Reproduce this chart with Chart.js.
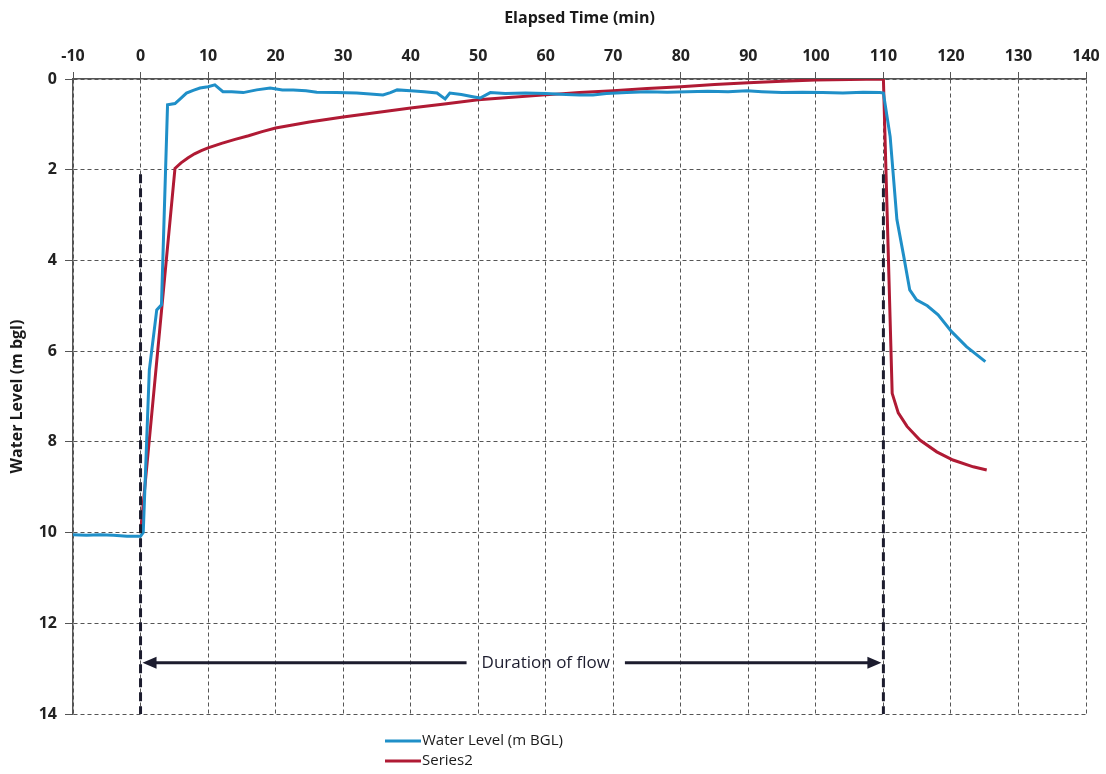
<!DOCTYPE html>
<html>
<head>
<meta charset="utf-8">
<script src="https://cdn.jsdelivr.net/npm/chart.js@4"></script>
<style>
  html, body { margin: 0; padding: 0; background: #fff; }
  #wrap { width: 1106px; height: 774px; position: relative; }
</style>
</head>
<body>
<div id="wrap"><canvas id="chart"></canvas></div>
<script>
// elapsed time (min) and water level (m bgl)
const measuredTime = [-10, -8, -6, -4, -2, 0, 0.4, 1.3, 2.4, 3.1, 4.0, 5.1, 6.0, 6.8, 7.8, 8.8, 10, 11.0, 12.2, 13.5,
  15.2, 17.2, 19.2, 21, 22.6, 24.5, 26.1, 29, 32, 34, 35.9, 37, 38, 40, 42, 43.9, 45.1, 45.8, 47.5, 49.2,
  50.3, 51.8, 54, 57, 60, 63, 65, 67, 69, 72, 75, 78, 81, 84, 87, 89.8, 92, 95, 98, 101,
  104, 107, 109.5, 110, 111.0, 112.0, 113.0, 113.9, 114.9, 116.5, 118.1, 120.1, 122.3, 125.1];
const measuredLevel = [10.05, 10.06, 10.05, 10.06, 10.08, 10.08, 10.0, 6.42, 5.09, 4.98, 0.57, 0.54, 0.42, 0.31, 0.25, 0.2, 0.17, 0.13, 0.28, 0.28,
  0.3, 0.24, 0.2, 0.24, 0.24, 0.26, 0.29, 0.3, 0.31, 0.33, 0.35, 0.3, 0.24, 0.26, 0.28, 0.31, 0.44, 0.31, 0.34, 0.39,
  0.42, 0.3, 0.32, 0.31, 0.32, 0.34, 0.35, 0.35, 0.32, 0.3, 0.28, 0.29, 0.28, 0.27, 0.28, 0.26, 0.28, 0.3, 0.29, 0.3,
  0.31, 0.29, 0.3, 0.31, 1.27, 3.1, 3.9, 4.65, 4.87, 5.0, 5.2, 5.57, 5.9, 6.23];

const series2Time = [0, 5.1, 6, 7, 8, 9, 10, 12, 14, 16, 18, 20, 25, 30, 35, 40, 45, 50, 55, 60,
  65, 70, 75, 80, 85, 90, 95, 100, 105, 110, 111.3, 112.2, 113.5, 115.4, 117.9, 120.3, 123.3, 125.3];
const series2Level = [10, 1.97, 1.85, 1.74, 1.65, 1.58, 1.52, 1.42, 1.33, 1.25, 1.16, 1.08, 0.95, 0.84, 0.74, 0.64, 0.55, 0.46, 0.4, 0.35,
  0.3, 0.26, 0.21, 0.17, 0.12, 0.08, 0.05, 0.02, 0.01, 0, 6.93, 7.36, 7.66, 7.96, 8.22, 8.4, 8.55, 8.62];

// start and end of flow, marker lines and the arrow
const flowStart = 0;
const flowEnd = 110;
const markerTop = 2.1;
const markerBottom = 14;
const arrowLevel = 12.87;
const arrowLabel = 'Duration of flow';
const arrowLabelAt = 60;

const xTicks = { min: -10, max: 140, step: 10 };
const yTicks = { min: 0, max: 14, step: 2 };

const seriesNames = ['Water Level (m BGL)', 'Series2'];
const seriesColors = ['#1f8fc8', '#b01a34'];

const toPoints = (xs, ys) => xs.map((x, i) => ({ x: x, y: ys[i] }));

const tickFont = { family: 'Open Sans', size: 16, weight: 'bold' };
const titleFont = { family: 'Open Sans', size: 16, weight: 'bold' };

const durationArrow = {
  id: 'durationArrow',
  afterDatasetsDraw(chart) {
    const { ctx, scales: { x, y } } = chart;
    const x0 = x.getPixelForValue(flowStart);
    const x1 = x.getPixelForValue(flowEnd);
    const yy = y.getPixelForValue(arrowLevel);
    const cx = x.getPixelForValue(arrowLabelAt);
    ctx.save();
    ctx.font = '17px "Open Sans"';
    const tw = ctx.measureText(arrowLabel).width;
    const gap = tw / 2 + 15;
    ctx.strokeStyle = '#1c1c2e';
    ctx.fillStyle = '#1c1c2e';
    ctx.lineWidth = 3;
    ctx.beginPath();
    ctx.moveTo(x0 + 8, yy); ctx.lineTo(cx - gap, yy);
    ctx.moveTo(cx + gap, yy); ctx.lineTo(x1 - 8, yy);
    ctx.stroke();
    // arrow heads
    ctx.beginPath();
    ctx.moveTo(x0 + 2, yy); ctx.lineTo(x0 + 16, yy - 6); ctx.lineTo(x0 + 16, yy + 6); ctx.closePath();
    ctx.moveTo(x1 - 2, yy); ctx.lineTo(x1 - 16, yy - 6); ctx.lineTo(x1 - 16, yy + 6); ctx.closePath();
    ctx.fill();
    ctx.textAlign = 'center';
    ctx.textBaseline = 'middle';
    ctx.fillText(arrowLabel, cx, yy);
    ctx.restore();
  }
};

const stackedLegend = {
  id: 'stackedLegend',
  afterDraw(chart) {
    const { ctx } = chart;
    ctx.save();
    ctx.font = '15px "Open Sans"';
    ctx.textBaseline = 'middle';
    seriesNames.forEach((name, i) => {
      const yy = 741 + i * 20;
      ctx.strokeStyle = seriesColors[i];
      ctx.lineWidth = 3;
      ctx.beginPath();
      ctx.moveTo(385, yy); ctx.lineTo(421, yy);
      ctx.stroke();
      ctx.fillStyle = '#1a1a1a';
      ctx.fillText(name, 422, yy);
    });
    ctx.restore();
  }
};

new Chart(document.getElementById('chart'), {
  type: 'line',
  data: {
    datasets: [
      {
        label: seriesNames[0],
        data: toPoints(measuredTime, measuredLevel),
        borderColor: seriesColors[0],
        borderWidth: 3,
        pointRadius: 0,
        tension: 0
      },
      {
        label: seriesNames[1],
        data: toPoints(series2Time, series2Level),
        borderColor: seriesColors[1],
        borderWidth: 3,
        pointRadius: 0,
        tension: 0
      },
      {
        label: 'start',
        data: toPoints([flowStart, flowStart], [markerTop, markerBottom]),
        borderColor: '#1c1c2e',
        borderWidth: 3,
        borderDash: [9, 5],
        pointRadius: 0,
        order: -1
      },
      {
        label: 'end',
        data: toPoints([flowEnd, flowEnd], [markerTop, markerBottom]),
        borderColor: '#1c1c2e',
        borderWidth: 3,
        borderDash: [9, 5],
        pointRadius: 0,
        order: -1
      }
    ]
  },
  options: {
    responsive: true,
    maintainAspectRatio: false,
    animation: false,
    layout: { padding: { left: 0, right: 20, top: 0, bottom: 60 } },
    plugins: {
      legend: { display: false },
      tooltip: { enabled: false }
    },
    scales: {
      x: {
        type: 'linear',
        position: 'top',
        min: xTicks.min,
        max: xTicks.max,
        ticks: { stepSize: xTicks.step, color: '#222', font: tickFont, padding: 6 },
        grid: { color: '#555', lineWidth: 1, tickLength: 7, tickColor: '#555' },
        border: { display: true, color: '#555', width: 1.5, dash: [4, 3] },
        title: { display: true, text: 'Elapsed Time (min)', color: '#1a1a1a', font: titleFont, padding: { top: 9, bottom: 4 } },
        afterFit(scale) { scale.height = 79; }
      },
      y: {
        min: yTicks.min,
        max: yTicks.max,
        reverse: true,
        ticks: { stepSize: yTicks.step, color: '#222', font: tickFont, padding: 8 },
        grid: { color: '#555', lineWidth: 1, tickLength: 8, tickColor: '#555' },
        border: { display: true, color: '#555', width: 1.5, dash: [4, 3] },
        title: { display: true, text: 'Water Level (m bgl)', color: '#1a1a1a', font: titleFont, padding: { top: 8, bottom: 4 } },
        afterFit(scale) { scale.width = 73; }
      }
    }
  },
  plugins: [durationArrow, stackedLegend]
});
</script>
</body>
</html>
